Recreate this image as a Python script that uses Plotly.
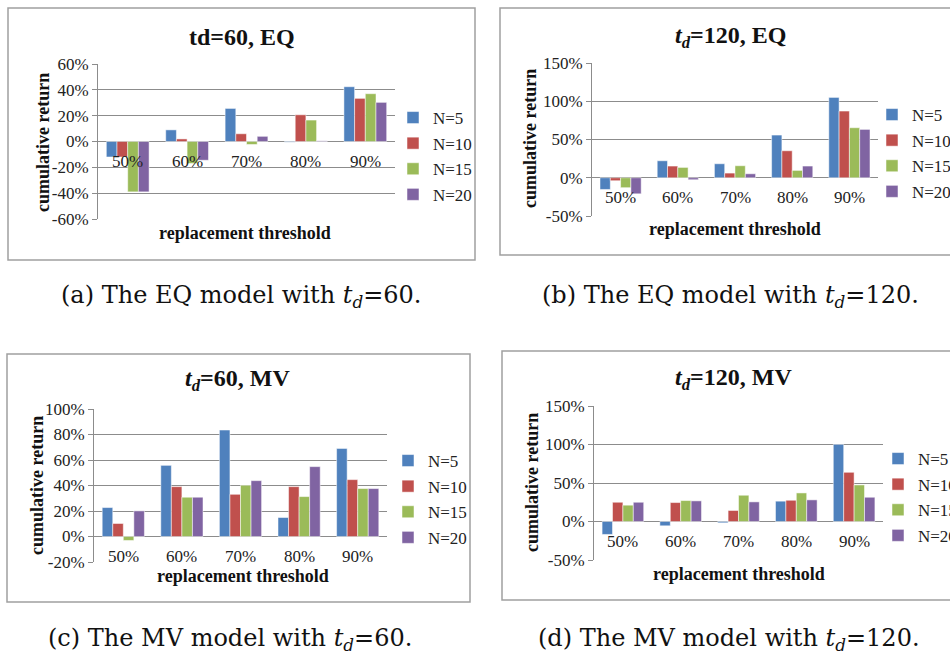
import plotly.graph_objects as go

W, H = 950, 652
FONT = "Liberation Serif"
CAP_FONT = "DejaVu Serif"
COLORS = ["#4F81BD", "#C0504D", "#9BBB59", "#8064A2"]
GRID = "#8c8c8c"

categories = ["50%", "60%", "70%", "80%", "90%"]
series_names = ["N=5", "N=10", "N=15", "N=20"]

# (a) td=60, EQ
a_n5 = [-12, 9, 25.6, -0.5, 42.4]
a_n10 = [-12, 2, 6, 20.7, 33.4]
a_n15 = [-39, -17, -2.3, 16.6, 37]
a_n20 = [-39, -14.5, 4, 0.5, 30.3]

# (b) td=120, EQ
b_n5 = [-15.3, 22.2, 18.3, 55.8, 105]
b_n10 = [-3.9, 15.3, 6.1, 35.3, 87.2]
b_n15 = [-13, 13.5, 15.7, 9.6, 65.4]
b_n20 = [-21, -2.6, 5.2, 15.3, 63.2]

# (c) td=60, MV
c_n5 = [22.7, 55.8, 83.5, 14.9, 69.1]
c_n10 = [10.2, 39.1, 33.1, 39.1, 44.6]
c_n15 = [-3.1, 30.8, 40.2, 31.3, 37.6]
c_n20 = [20.1, 30.8, 43.8, 54.8, 37.6]

# (d) td=120, MV
d_n5 = [-16.8, -5.6, -1.7, 26.4, 100.2]
d_n10 = [25, 24.6, 14.3, 27.6, 63.9]
d_n15 = [21.2, 27.2, 34.1, 37.1, 47.5]
d_n20 = [25, 26.8, 25.5, 28.1, 31.5]

# y-axis tick values per panel
a_ticks = [-60, -40, -20, 0, 20, 40, 60]
b_ticks = [-50, 0, 50, 100, 150]
c_ticks = [-20, 0, 20, 40, 60, 80, 100]
d_ticks = [-50, 0, 50, 100, 150]

titles = ["<b>td=60, EQ</b>",
          "<b><i>t</i><sub><i>d</i></sub>=120, EQ</b>",
          "<b><i>t</i><sub><i>d</i></sub>=60, MV</b>",
          "<b><i>t</i><sub><i>d</i></sub>=120, MV</b>"]
captions = ["(a) The EQ model with <i>t</i><sub><i>d</i></sub>=60.",
            "(b) The EQ model with <i>t</i><sub><i>d</i></sub>=120.",
            "(c) The MV model with <i>t</i><sub><i>d</i></sub>=60.",
            "(d) The MV model with <i>t</i><sub><i>d</i></sub>=120."]
y_label = "cumulative return"
x_label = "replacement threshold"


def X(px):
    return px / W


def Y(py):
    return 1 - py / H


panels = [
    dict(data=[a_n5, a_n10, a_n15, a_n20], ticks=a_ticks,
         plot=(98, 395, 64, 219),
         frame=(8, 475, 8, 260), title=(242, 37), ytitle=(43, 143),
         xtitle=(245, 233), legend=(393, 100), caption=(241, 297)),
    dict(data=[b_n5, b_n10, b_n15, b_n20], ticks=b_ticks,
         plot=(592, 878, 63, 216),
         frame=(500, 965, 8, 255), title=(730, 37), ytitle=(530, 139),
         xtitle=(735, 229), legend=(872, 97), caption=(730, 297)),
    dict(data=[c_n5, c_n10, c_n15, c_n20], ticks=c_ticks,
         plot=(94, 387, 409, 562),
         frame=(7, 470, 354, 602), title=(237, 380), ytitle=(37, 486),
         xtitle=(243, 576), legend=(388, 443), caption=(230, 639)),
    dict(data=[d_n5, d_n10, d_n15, d_n20], ticks=d_ticks,
         plot=(594, 883, 406, 560),
         frame=(502, 965, 351, 600), title=(733, 379), ytitle=(532, 483),
         xtitle=(739, 574), legend=(878, 441), caption=(729, 639)),
]

fig = go.Figure()
shapes = []
annotations = []
layout = {}

for i, p in enumerate(panels):
    sfx = "" if i == 0 else str(i + 1)
    xa, ya = "x" + sfx, "y" + sfx
    leg = "legend" + sfx
    for j, (vals, name) in enumerate(zip(p["data"], series_names)):
        fig.add_trace(go.Bar(
            x=categories, y=vals, name=name, xaxis=xa, yaxis=ya,
            legend=leg, legendgroup=f"{i}-{j}",
            marker=dict(color=COLORS[j], line=dict(width=0.5, color="white")),
            hoverinfo="x+y+name"))
    x0, x1, y0, y1 = p["plot"]
    tv = p["ticks"]
    layout["xaxis" + sfx] = dict(
        domain=[X(x0), X(x1)], anchor=ya, showticklabels=False,
        showgrid=False, zeroline=False, showline=False, ticks="",
        fixedrange=True)
    layout["yaxis" + sfx] = dict(
        domain=[Y(y1), Y(y0)], anchor=xa, range=[tv[0], tv[-1]],
        tickmode="array", tickvals=tv, ticktext=[f"{v}%" for v in tv],
        showgrid=True, gridcolor=GRID,
        gridwidth=1, zeroline=True, zerolinecolor=GRID, zerolinewidth=1,
        showline=True, linecolor=GRID, linewidth=1, ticks="outside",
        ticklen=5, tickcolor=GRID,
        tickfont=dict(family=FONT, size=17, color="#222"),
        fixedrange=True)
    lx, ly = p["legend"]
    layout[leg] = dict(
        x=X(lx), y=Y(ly), xanchor="left", yanchor="top",
        xref="paper", yref="paper", bgcolor="rgba(0,0,0,0)",
        font=dict(family=FONT, size=17, color="#222"),
        tracegroupgap=0.5, itemclick=False, itemdoubleclick=False)
    fx0, fx1, fy0, fy1 = p["frame"]
    shapes.append(dict(type="rect", xref="paper", yref="paper",
                       x0=X(fx0), x1=X(fx1), y0=Y(fy1), y1=Y(fy0),
                       line=dict(color="#a0a0a0", width=1.5),
                       fillcolor="rgba(0,0,0,0)", layer="below"))
    tx, ty = p["title"]
    annotations.append(dict(text=titles[i], x=X(tx), y=Y(ty), xref="paper",
                            yref="paper", showarrow=False, xanchor="center",
                            yanchor="middle",
                            font=dict(family=FONT, size=24, color="#111")))
    yx, yy = p["ytitle"]
    annotations.append(dict(text=f"<b>{y_label}</b>", x=X(yx),
                            y=Y(yy), xref="paper", yref="paper",
                            showarrow=False, textangle=-90,
                            xanchor="center", yanchor="middle",
                            font=dict(family=FONT, size=18, color="#111")))
    xx, xy = p["xtitle"]
    annotations.append(dict(text=f"<b>{x_label}</b>", x=X(xx),
                            y=Y(xy), xref="paper", yref="paper",
                            showarrow=False, xanchor="center",
                            yanchor="middle",
                            font=dict(family=FONT, size=18, color="#111")))
    for c in categories:
        annotations.append(dict(text=c, x=c, y=0, xref=xa, yref=ya,
                                showarrow=False, xanchor="center",
                                yanchor="middle", yshift=-20,
                                font=dict(family=FONT, size=17,
                                          color="#222")))
    cx, cy = p["caption"]
    annotations.append(dict(text=captions[i], x=X(cx), y=Y(cy),
                            xref="paper", yref="paper", showarrow=False,
                            xanchor="center", yanchor="middle",
                            font=dict(family=CAP_FONT, size=24,
                                      color="#111")))

fig.update_layout(
    width=W, height=H,
    margin=dict(l=0, r=0, t=0, b=0, pad=0, autoexpand=False),
    paper_bgcolor="white", plot_bgcolor="white",
    barmode="group", bargap=0.28, bargroupgap=0,
    shapes=shapes, annotations=annotations, **layout)

fig.write_html("out.html",
               config={"displayModeBar": False},
               post_script="document.body.style.margin='0px';")
